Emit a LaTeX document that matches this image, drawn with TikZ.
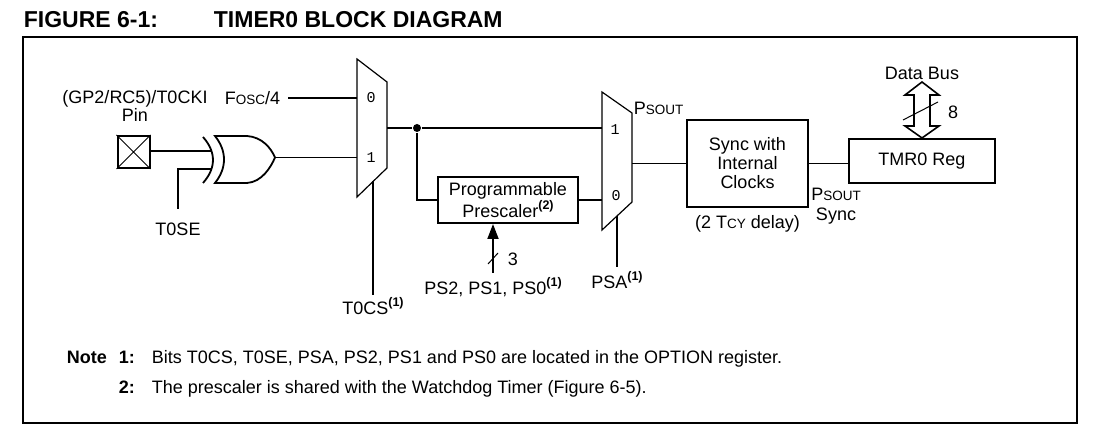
\documentclass[tikz,border=0pt]{standalone}
\usepackage{fontspec}
\setmainfont{Liberation Sans}
\newfontfamily\muxfont{Liberation Mono}
\usetikzlibrary{arrows.meta, positioning}
\newcommand{\sm}[1]{{\fontsize{13.5}{13.5}\selectfont #1}}
\newcommand{\nsup}[1]{\raisebox{0.42em}{\fontsize{12.5}{12.5}\selectfont\bfseries(#1)}}

\begin{document}
\begin{tikzpicture}[x=1pt, y=-1pt, line width=1.8pt,
        every node/.style={font=\fontsize{18}{19}\selectfont, inner sep=0pt},
        blk/.style={draw, line width=2pt, align=center},
        mux/.style={draw, line width=1.2pt},
        muxin/.style={font=\muxfont\fontsize{15}{15}\selectfont},
        dot/.style={circle, fill=black, inner sep=0pt, minimum size=8pt},
        ttl/.style={anchor=base west, font=\bfseries\fontsize{23}{23}\selectfont},
        note/.style={anchor=base west, font=\fontsize{18}{19}\selectfont}]
        \useasboundingbox (0,0) rectangle (1096,435);

        \node[ttl] (fig) at (23,28) {FIGURE 6-1:};
        \node[ttl] (title) at (213,28) {TIMER0 BLOCK DIAGRAM};
        \draw[line width=2.6pt] (23,37) rectangle (1077,423);

        % input pin and edge select
        \node[draw, line width=2pt, minimum size=32pt] (pin) at (133.5,152) {};
        \draw[line width=0.9pt] (pin.north west) -- (pin.south east) (pin.north east) -- (pin.south west);
        \node[align=center, font=\fontsize{18}{16}\selectfont] (pinlbl) at (135,106) {(GP2/RC5)/T0CKI\\Pin};

        \coordinate (xa) at (211,151);
        \coordinate (xb) at (211,169);
        \coordinate (xo) at (275,157.5);
        \draw (203,137) .. controls (216.3,152) and (216.3,168) .. (203,183);
        \draw (215,136) -- (247,136) .. controls (262,137) and (271,148) .. (xo)
              .. controls (271,167) and (262,182) .. (247,183) -- (215,183)
              .. controls (227,168) and (227,151) .. (215,136) -- cycle;

        \coordinate (t0sep) at (178,209);
        \node[below=13pt of t0sep] (t0se) {T0SE};
        \draw (pin.east |- xa) -- (xa);
        \draw (xb) -| (t0sep);

        % clock source mux
        \draw[mux] (357,59) -- (387,82) -- (387,168) -- (357,197) -- cycle;
        \coordinate (m1a) at (357,98);
        \coordinate (m1b) at (357,157.5);
        \coordinate (m1o) at (387,128);
        \coordinate (m1s) at (373,181.5);
        \node[muxin] at (371,98) {0};
        \node[muxin] at (371,157.5) {1};

        \coordinate (foscp) at (288,98);
        \node[left=7pt of foscp] (fosc) {F\sm{OSC}/4};
        \draw (foscp) -- (m1a);
        \draw (xo) -- (m1b);

        \coordinate (t0csp) at (373,295);
        \node[below=2pt of t0csp] (t0cs) {T0CS\nsup{1}};
        \draw (m1s) -- (t0csp);

        % prescaler
        \node[dot] (jn) at (417,128) {};
        \node[blk, minimum width=140pt, minimum height=46pt, font=\fontsize{18}{17}\selectfont] (pre) at (508,200) {Programmable\\Prescaler\nsup{2}};

        \coordinate (psp) at (493,273);
        \draw[-{Triangle[width=11pt,length=15pt]}] (psp) -- (psp |- pre.south);
        \draw[line width=1pt] (488,264) -- (498,253);
        \node (three) at (513,259) {3};
        \node[below=4pt of psp] (psl) {PS2, PS1, PS0\nsup{1}};

        % prescaler assignment mux
        \draw[mux] (602,92) -- (632,113) -- (632,202) -- (602,230) -- cycle;
        \coordinate (m2b) at (602,128);
        \coordinate (m2a) at (602,200);
        \coordinate (m2o) at (632,163.5);
        \coordinate (m2s) at (617,216);
        \node[muxin] at (615,130) {1};
        \node[muxin] at (616,196) {0};
        \node[anchor=south west] (psout) at (633,116) {P\sm{SOUT}};

        \draw (m1o) -- (jn) -- (m2b);
        \draw (jn) |- (pre.west);
        \draw (pre.east) -- (m2a);

        \coordinate (psap) at (617,267);
        \node[below=4pt of psap] (psa) {PSA\nsup{1}};
        \draw (m2s) -- (psap);

        % sync and register
        \node[blk, minimum width=121pt, minimum height=87pt] (sync) at (747.5,163.5) {Sync with\\Internal\\Clocks};
        \node[below=7pt of sync] (dly) {(2 T\sm{CY} delay)};
        \node[blk, minimum width=146pt, minimum height=44pt] (tmr) at (922,161) {TMR0 Reg};
        \node[align=center, font=\fontsize{18}{20}\selectfont] (psync) at (836,206) {P\sm{SOUT}\\Sync};

        \draw (m2o) -- (sync.west |- m2o);
        \draw (sync.east) -- (sync.east -| tmr.west);

        % data bus
        \draw[line width=1.6pt, fill=white] (922,82) -- (939,95) -- (930,95) -- (930,126) -- (939,126)
              -- (tmr.north) -- (905,126) -- (914,126) -- (914,95) -- (905,95) -- cycle;
        \draw[line width=1pt] (903,120) -- (938,102);
        \node (eight) at (953,112) {8};
        \node (dbus) at (922,73) {Data Bus};

        % notes
        \node[note, font=\bfseries\fontsize{18}{19}\selectfont] (nt) at (66,364) {Note};
        \node[note, font=\bfseries\fontsize{18}{19}\selectfont] (n1) at (118,364) {1:};
        \node[note] (n1t) at (151,364) {Bits T0CS, T0SE, PSA, PS2, PS1 and PS0 are located in the OPTION register.};
        \node[note, font=\bfseries\fontsize{18}{19}\selectfont] (n2) at (118,394) {2:};
        \node[note] (n2t) at (151,394) {The prescaler is shared with the Watchdog Timer (Figure 6-5).};
\end{tikzpicture}
\end{document}
